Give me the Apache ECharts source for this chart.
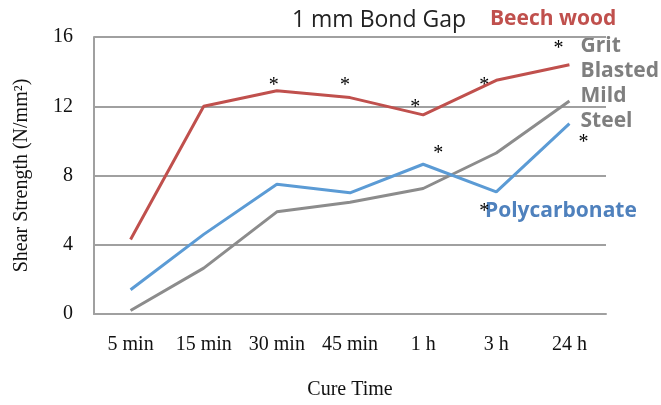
<!DOCTYPE html>
<html>
<head>
<meta charset="utf-8">
<script src="https://cdn.jsdelivr.net/npm/echarts@6/dist/echarts.min.js"></script>
<style>
  html, body { margin: 0; padding: 0; background: #fff; }
  #chart { width: 661px; height: 405px; }
</style>
</head>
<body>
<div id="chart"></div>
<script>
const cureTimes = ['5 min', '15 min', '30 min', '45 min', '1 h', '3 h', '24 h'];
const beechWood = [4.3, 12.0, 12.9, 12.5, 11.5, 13.5, 14.4];
const gritBlastedSteel = [0.2, 2.65, 5.9, 6.45, 7.25, 9.3, 12.3];
const polycarbonate = [1.4, 4.6, 7.5, 7.0, 8.65, 7.05, 11.0];

// significance marks: [category, value, horizontal nudge in px]
const asterisks = [
  ['30 min', 13.2, -3],
  ['45 min', 13.2, -5],
  ['1 h', 11.9, -8],
  ['1 h', 9.25, 15],
  ['3 h', 13.2, -12],
  ['3 h', 5.9, -12],
  ['24 h', 15.3, -11],
  ['24 h', 9.9, 14]
];

const RED = '#C0504D';
const GREY = '#8C8C8C';
const BLUE = '#5B9BD5';
const serif = '"Liberation Serif", "DejaVu Serif", serif';
const sans = '"Open Sans", "Noto Sans", sans-serif';

const chart = echarts.init(document.getElementById('chart'), null, { renderer: 'canvas' });

chart.setOption({
  animation: false,
  backgroundColor: '#fff',
  title: {
    text: '1 mm Bond Gap',
    left: 374,
    top: 4,
    textAlign: 'center',
    textStyle: { fontFamily: sans, fontWeight: 'normal', fontSize: 23, color: '#222' }
  },
  grid: { left: 94, right: 55, top: 37, bottom: 86 },
  xAxis: {
    type: 'category',
    data: cureTimes,
    boundaryGap: true,
    name: 'Cure Time',
    nameLocation: 'middle',
    nameGap: 66,
    nameTextStyle: { fontFamily: serif, fontSize: 20, color: '#111' },
    axisLine: { show: true, lineStyle: { color: '#A0A0A0', width: 2 } },
    axisTick: { show: false },
    axisLabel: { fontFamily: serif, fontSize: 20, color: '#111', margin: 21 }
  },
  yAxis: {
    type: 'value',
    min: 0,
    max: 16,
    interval: 4,
    name: 'Shear Strength (N/mm²)',
    nameLocation: 'middle',
    nameGap: 62,
    nameTextStyle: { fontFamily: serif, fontSize: 20, color: '#111' },
    axisLine: { show: true, lineStyle: { color: '#A0A0A0', width: 2 } },
    axisTick: { show: false },
    axisLabel: { fontFamily: serif, fontSize: 20, color: '#111', margin: 21, padding: [4, 0, 0, 0] },
    splitLine: { lineStyle: { color: '#A0A0A0', width: 2 } }
  },
  series: [
    {
      name: 'Beech wood',
      type: 'line',
      data: beechWood,
      symbol: 'none',
      lineStyle: { color: RED, width: 3 },
      itemStyle: { color: RED }
    },
    {
      name: 'Grit Blasted Mild Steel',
      type: 'line',
      data: gritBlastedSteel,
      symbol: 'none',
      lineStyle: { color: GREY, width: 3 },
      itemStyle: { color: GREY }
    },
    {
      name: 'Polycarbonate',
      type: 'line',
      data: polycarbonate,
      symbol: 'none',
      lineStyle: { color: BLUE, width: 3 },
      itemStyle: { color: BLUE }
    },
    {
      name: 'significance',
      type: 'scatter',
      symbol: 'circle',
      symbolSize: 1,
      itemStyle: { color: 'rgba(0,0,0,0)' },
      silent: true,
      data: asterisks.map(a => ({
        value: [a[0], a[1]],
        label: { offset: [a[2], 0] }
      })),
      label: {
        show: true,
        position: 'inside',
        formatter: '*',
        fontFamily: serif,
        fontSize: 20,
        color: '#000',
        opacity: 1
      }
    }
  ],
  graphic: [
    {
      type: 'text', left: 490, top: 9,
      style: { text: 'Beech wood', fill: RED, font: 'bold 21px ' + sans }
    },
    {
      type: 'text', right: 2, top: 34,
      style: {
        text: 'Grit\nBlasted\nMild\nSteel',
        fill: '#7F7F7F',
        align: 'right',
        lineHeight: 25,
        font: 'bold 21px ' + sans
      }
    },
    {
      type: 'text', left: 485, top: 201,
      style: { text: 'Polycarbonate', fill: '#4F81BD', font: 'bold 21px ' + sans }
    }
  ]
});
</script>
</body>
</html>
